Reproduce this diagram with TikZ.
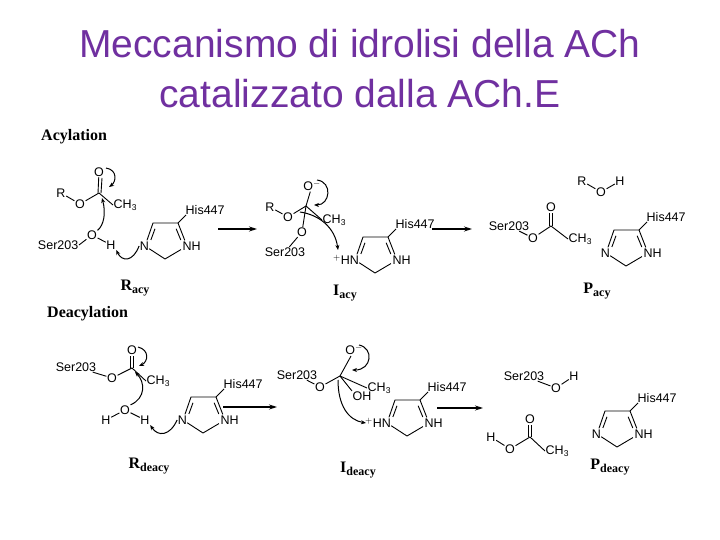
\documentclass[tikz,border=0pt]{standalone}
\usepackage{fontspec}
\setmainfont{Liberation Sans}
\newfontfamily\serifb{Liberation Serif}
\usetikzlibrary{arrows.meta}
\definecolor{titlec}{RGB}{112,48,160}
\tikzset{
  atm/.style={font=\fontsize{12.5}{13}\selectfont, inner sep=0.5pt},
  bd/.style={line width=0.9pt},
  cur/.style={line width=1pt,-{Stealth[length=5pt,width=4pt]}},
  rxn/.style={line width=1.1pt,-{Stealth[length=8pt,width=5pt]}},
  lab/.style={font=\serifb\bfseries\fontsize{16}{16}\selectfont, inner sep=0pt},
  sect/.style={font=\serifb\bfseries\fontsize{16}{16}\selectfont, inner sep=0pt},
}
\newcommand\sub[1]{\raisebox{-0.35ex}{\fontsize{8.5}{8.5}\selectfont #1}}
\newcommand\lsub[1]{\raisebox{-0.45ex}{\fontsize{12}{12}\selectfont #1}}
\newcommand\imidaz[4]{%
\begin{scope}[shift={(#1,#2)}]
 \coordinate (#4v1) at (0,0); \coordinate (#4v2) at (8,-23);
 \coordinate (#4v3) at (33,-23); \coordinate (#4v4) at (42,0); \coordinate (#4v5) at (20,13);
 \node[atm,anchor=east] (#4N) at (4.5,0) {#3};
 \node[atm,anchor=west] (#4NH) at (37,0) {NH};
 \node[atm,anchor=west] (#4His) at (40,-36) {His447};
 \draw[bd,shorten <=6pt] (#4v1)--(#4v2)--(#4v3);
 \draw[bd,shorten >=6pt] (#4v3)--(#4v4);
 \draw[bd,shorten <=7pt] (#4v4)--(#4v5);
 \draw[bd,shorten >=5pt] (#4v5)--(#4v1);
 \draw[bd,shorten <=7pt,shorten >=3pt] (3.5,0.5)--(11,-20);
 \draw[bd,shorten <=3pt,shorten >=7pt] (30,-20)--(38.5,0.5);
 \draw[bd] (#4v3)--(41,-31);
\end{scope}}
\begin{document}
\begin{tikzpicture}[x=1pt,y=-1pt]
\useasboundingbox (0,0) rectangle (720,540);
\fill[white] (0,0) rectangle (720,540);
\node[text=titlec,font=\fontsize{39}{40}\selectfont] (t1) at (360,44) {Meccanismo di idrolisi della ACh};
\node[text=titlec,font=\fontsize{39}{40}\selectfont] (t2) at (360,94) {catalizzato dalla ACh.E};
\node[sect,anchor=west] (acyl) at (41,137) {Acylation};
\node[sect,anchor=west] (deacyl) at (47,314) {Deacylation};

% ===== R_acy
\node[atm] (r1R) at (61,193) {R};
\node[atm] (r1O) at (80,204) {O};
\node[atm] (r1Ot) at (99,172) {O};
\coordinate (r1C) at (99,193);
\node[atm,anchor=west] (r1Me) at (113,205) {CH\sub{3}};
\node[atm,anchor=east] (r1S) at (79,245) {Ser203};
\node[atm] (r1O2) at (92,235) {O};
\node[atm] (r1H) at (111,245) {H};
\draw[bd] (r1R)--(r1O)--(r1C)--(r1Me.west);
\draw[bd] (98,193)--(r1Ot); \draw[bd] (101,193)--(102,178);
\draw[bd] (r1S.east)--(r1O2)--(r1H);
\imidaz{145}{246}{N}{i1}
\draw[cur] (r1O2) .. controls (104,225) and (106,213) .. (102,198);
\draw[cur] (106,168) .. controls (118,170) and (116,182) .. (109,187);
\draw[cur] (i1N.west) .. controls (133,262) and (122,262) .. (r1H.south east);
\draw[rxn] (218,229) -- (257,229);
\node[lab] (Racy) at (135,288) {R\lsub{acy}};

% ===== I_acy
\node[atm] (i2Om) at (312,186) {O$^{-}$};
\node[atm] (i2R) at (270,207) {R};
\node[atm] (i2O) at (288,217) {O};
\coordinate (i2C) at (306,206);
\node[atm,anchor=west] (i2Me) at (322,220) {CH\sub{3}};
\node[atm] (i2O2) at (302,232) {O};
\node[atm] (i2S) at (285,252) {Ser203};
\draw[bd] (i2R)--(i2O)--(i2C)--(i2Me.west);
\draw[bd] (i2C)--(i2Om); \draw[bd] (i2C)--(i2O2)--(i2S);
\imidaz{355}{260}{$^{+}$HN}{i2}
\draw[cur] (317,180) .. controls (333,182) and (330,205) .. (314,205);
\draw[cur] (300,212) .. controls (320,215) and (335,228) .. (338,250);
\draw[rxn] (432,229) -- (472,229);
\node[lab] (Iacy) at (345,293) {I\lsub{acy}};

% ===== P_acy
\node[atm] (p1S) at (509,226) {Ser203};
\node[atm] (p1O) at (533,238) {O};
\coordinate (p1C) at (551,226);
\node[atm] (p1Ot) at (551,207) {O};
\node[atm,anchor=west] (p1Me) at (568,239) {CH\sub{3}};
\draw[bd] (p1S)--(p1O)--(p1C)--(p1Me.west);
\draw[bd] (549.5,226)--(549.5,213); \draw[bd] (552.5,226)--(552.5,213);
\node[atm] (p1R) at (582,181) {R};
\node[atm] (p1Oh) at (601,192) {O};
\node[atm] (p1H) at (620,181) {H};
\draw[bd] (p1R)--(p1Oh)--(p1H);
\imidaz{606}{253}{N}{i3}
\node[lab] (Pacy) at (597,291) {P\lsub{acy}};

% ===== R_deacy
\node[atm] (r2S) at (76,367) {Ser203};
\node[atm] (r2O) at (112,378) {O};
\coordinate (r2C) at (132,368);
\node[atm] (r2Ot) at (132,350) {O};
\node[atm,anchor=west] (r2Me) at (146,381) {CH\sub{3}};
\draw[bd] (r2S)--(r2O)--(r2C)--(r2Me.west);
\draw[bd] (130.5,368)--(130.5,356); \draw[bd] (133.5,368)--(133.5,356);
\node[atm] (r2H1) at (106,420) {H};
\node[atm] (r2Ow) at (125,410) {O};
\node[atm] (r2H2) at (145,420) {H};
\draw[bd] (r2H1)--(r2Ow)--(r2H2);
\imidaz{183}{420}{N}{i4}
\draw[cur] (r2Ow.north east) .. controls (146,398) and (145,382) .. (135,372);
\draw[cur] (138,347) .. controls (150,350) and (148,362) .. (139,366);
\draw[cur] (i4N.west) .. controls (170,436) and (158,437) .. (r2H2.south east);
\draw[rxn] (223,407) -- (277,407);
\node[lab] (Rdeacy) at (149,466) {R\lsub{deacy}};

% ===== I_deacy
\node[atm] (i5S) at (297,375) {Ser203};
\node[atm] (i5O) at (320,387) {O};
\coordinate (i5C) at (340,376);
\node[atm] (i5Om) at (354,350) {O$^{-}$};
\node[atm,anchor=west] (i5Me) at (367,388) {CH\sub{3}};
\node[atm] (i5OH) at (362,396) {OH};
\draw[bd] (i5S)--(i5O)--(i5C)--(i5Me.west);
\draw[bd] (i5C)--(351,356); \draw[bd] (i5C)--(i5OH.north west);
\imidaz{387}{423}{$^{+}$HN}{i5}
\draw[cur] (359,345) .. controls (374,348) and (372,370) .. (352,370);
\draw[cur] (338,380) .. controls (338,405) and (348,420) .. (366,423);
\draw[rxn] (437,408) -- (483,408);
\node[lab] (Ideacy) at (358,470) {I\lsub{deacy}};

% ===== P_deacy
\node[atm] (p2S) at (524,376) {Ser203};
\node[atm] (p2O) at (556,388) {O};
\node[atm] (p2H) at (574,376) {H};
\draw[bd] (p2S)--(p2O)--(p2H);
\node[atm] (p2H2) at (491,437) {H};
\node[atm] (p2Oa) at (510,449) {O};
\coordinate (p2C) at (530,437);
\node[atm] (p2Ot) at (530,419) {O};
\node[atm,anchor=west] (p2Me) at (545,451) {CH\sub{3}};
\draw[bd] (p2H2)--(p2Oa)--(p2C)--(p2Me.west);
\draw[bd] (528.5,437)--(528.5,425); \draw[bd] (531.5,437)--(531.5,425);
\imidaz{597}{434}{N}{i6}
\node[lab] (Pdeacy) at (610,467) {P\lsub{deacy}};
\end{tikzpicture}
\end{document}
